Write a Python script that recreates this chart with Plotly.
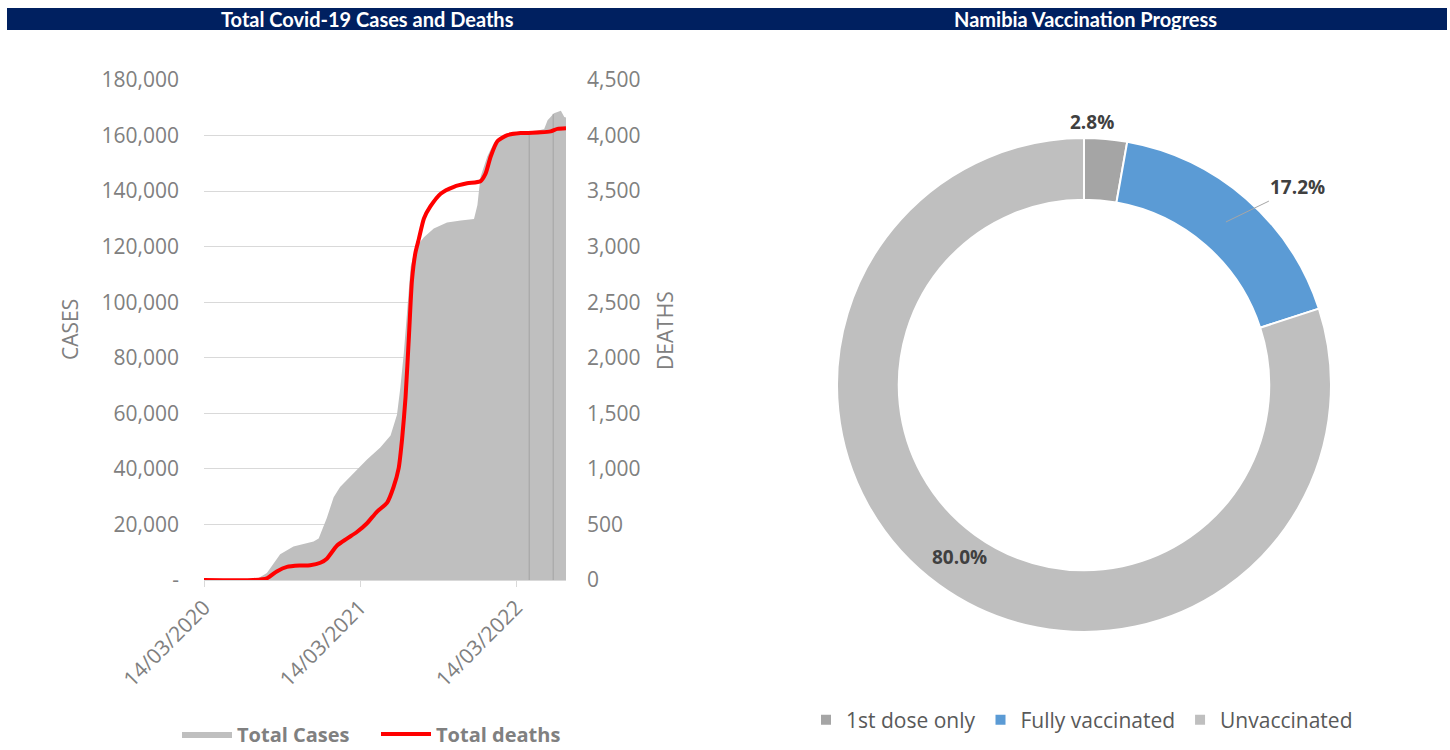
import math
import plotly.graph_objects as go

# ---------------- data ----------------
case_dates = ["2020-03-14", "2020-07-07", "2020-07-15", "2020-08-08", "2020-09-08", "2020-10-09",
              "2020-11-25", "2020-12-07", "2020-12-26", "2021-01-11", "2021-01-26", "2021-02-27",
              "2021-03-30", "2021-04-30", "2021-05-24", "2021-06-08", "2021-06-16", "2021-06-24",
              "2021-07-02", "2021-07-10", "2021-07-21", "2021-08-10", "2021-09-02", "2021-10-03",
              "2021-11-04", "2021-12-05", "2021-12-13", "2021-12-20", "2022-01-05", "2022-01-21",
              "2022-02-05", "2022-03-09", "2022-04-13", "2022-05-18", "2022-05-26", "2022-06-10",
              "2022-06-26", "2022-07-04", "2022-07-08"]
total_cases = [0, 0, 300, 2500, 9300, 12100,
               13900, 14900, 22300, 29800, 33500, 38400,
               43400, 47700, 52000, 59500, 69400, 81800,
               98000, 112800, 119600, 123400, 126500, 128700,
               129400, 130000, 135000, 145000, 152500, 157500,
               159700, 160500, 161000, 162400, 165500, 168000,
               168900, 166700, 166500]

death_dates = ["2020-03-14", "2020-07-07", "2020-08-08", "2020-08-31", "2020-09-24", "2020-10-25",
               "2020-11-17", "2020-12-11", "2020-12-26", "2021-01-19", "2021-02-11", "2021-03-07",
               "2021-03-30", "2021-04-22", "2021-05-16", "2021-05-31", "2021-06-12", "2021-06-20",
               "2021-06-28", "2021-07-06", "2021-07-13", "2021-07-21", "2021-07-29", "2021-08-10",
               "2021-08-25", "2021-09-18", "2021-10-19", "2021-11-19", "2021-12-20", "2022-01-01",
               "2022-01-13", "2022-01-29", "2022-02-21", "2022-03-24", "2022-05-10", "2022-06-02",
               "2022-06-18", "2022-07-08"]
total_deaths = [0, 0, 15, 77, 118, 130,
                133, 155, 192, 310, 372, 434,
                511, 614, 697, 837, 1007, 1271,
                1643, 2200, 2696, 2944, 3068, 3254,
                3362, 3477, 3539, 3570, 3589, 3657,
                3812, 3951, 4004, 4022, 4029, 4038,
                4060, 4066]

# thin darker drop lines visible inside the area
gap_dates = ["2022-04-13", "2022-06-08"]
gap_values = [161000, 167800]

x_tick_vals = ["2020-03-14", "2021-03-14", "2022-03-14"]
x_tick_text = ["14/03/2020", "14/03/2021", "14/03/2022"]
case_tick_vals = [0, 20000, 40000, 60000, 80000, 100000, 120000, 140000, 160000, 180000]
case_tick_text = ["-", "20,000", "40,000", "60,000", "80,000", "100,000", "120,000",
                  "140,000", "160,000", "180,000"]
death_tick_vals = [0, 500, 1000, 1500, 2000, 2500, 3000, 3500, 4000, 4500]
death_tick_text = ["0", "500", "1,000", "1,500", "2,000", "2,500", "3,000", "3,500",
                   "4,000", "4,500"]

vacc_labels = ["1st dose only", "Fully vaccinated", "Unvaccinated"]
vacc_values = [2.8, 17.2, 80.0]
vacc_colors = ["#a5a5a5", "#5b9bd5", "#bfbfbf"]

# ---------------- figure ----------------
W, H = 1450, 750
FONT = "Open Sans"
GRAY = "#808080"
LBL = "#404040"
TICK = 21

# donut geometry (pixels)
PCX, PCY, PR, HOLE = 1084, 385, 247, 0.75

fig = go.Figure()

fig.add_trace(go.Scatter(
    x=case_dates, y=total_cases, name="Total Cases", mode="lines",
    fill="tozeroy", fillcolor="#bfbfbf", line=dict(width=0, color="#d9d9d9"),
    legend="legend", hoverinfo="skip"))

gx, gy = [], []
for d, v in zip(gap_dates, gap_values):
    gx += [d, d, None]
    gy += [0, v, None]
fig.add_trace(go.Scatter(x=gx, y=gy, mode="lines", line=dict(color="#a3a3a3", width=1),
                         showlegend=False, hoverinfo="skip"))

fig.add_trace(go.Scatter(
    x=death_dates, y=total_deaths, name="Total deaths", mode="lines",
    line=dict(color="#ff0000", width=4, shape="spline", smoothing=0.6),
    yaxis="y2", legend="legend"))

fig.add_trace(go.Pie(
    labels=vacc_labels, values=vacc_values, sort=False, direction="clockwise",
    hole=HOLE, marker=dict(colors=vacc_colors, line=dict(color="white", width=2)),
    textinfo="none",
    domain=dict(x=[(PCX - PR) / W, (PCX + PR) / W], y=[1 - (PCY + PR) / H, 1 - (PCY - PR) / H]),
    legend="legend2", showlegend=True))

fig.update_layout(
    width=W, height=H, margin=dict(l=0, r=0, t=0, b=0, autoexpand=False),
    paper_bgcolor="white", plot_bgcolor="white",
    font=dict(family=FONT, size=20, color=GRAY),
    xaxis=dict(domain=[204 / W, 566 / W], type="date",
               range=["2020-03-14", "2022-07-08"],
               tickvals=x_tick_vals, ticktext=x_tick_text, tickangle=-45,
               ticks="outside", ticklen=6, tickcolor="#d9d9d9",
               showline=True, linecolor="#d9d9d9", linewidth=1,
               showgrid=False, zeroline=False, automargin=False,
               tickfont=dict(size=TICK, color=GRAY)),
    yaxis=dict(domain=[1 - 580 / H, 1 - 80 / H], range=[0, 180000],
               tickvals=case_tick_vals, ticktext=case_tick_text,
               showgrid=True, gridcolor="#d9d9d9", gridwidth=1, zeroline=False,
               ticks="", ticklabelstandoff=24, automargin=False,
               tickfont=dict(size=TICK, color=GRAY)),
    yaxis2=dict(overlaying="y", side="right", range=[0, 4500],
                tickvals=death_tick_vals, ticktext=death_tick_text,
                showgrid=False, zeroline=False, ticks="",
                ticklabelstandoff=20, automargin=False,
                tickfont=dict(size=TICK, color=GRAY)),
    legend=dict(orientation="h", x=376 / W, xanchor="center", y=1 - 734 / H, yanchor="middle",
                font=dict(size=20, color=GRAY, weight="bold"), bgcolor="rgba(0,0,0,0)",
                itemwidth=50, tracegroupgap=0, entrywidth=134),
    legend2=dict(orientation="h", x=1082 / W, xanchor="center", y=1 - 720 / H, yanchor="middle",
                 font=dict(size=21, color="#595959"), bgcolor="rgba(0,0,0,0)"),
    showlegend=True,
)

# title band
fig.add_shape(type="rect", xref="paper", yref="paper",
              x0=7 / W, x1=1447 / W, y0=1 - 30 / H, y1=1 - 8 / H,
              fillcolor="#002060", line=dict(width=0), layer="below")
fig.add_annotation(text="Total Covid-19 Cases and Deaths", xref="paper", yref="paper",
                   x=367 / W, y=1 - 19 / H, showarrow=False, xanchor="center", yanchor="middle",
                   font=dict(family="Lato", size=20, color="white", weight="bold"))
fig.add_annotation(text="Namibia Vaccination Progress", xref="paper", yref="paper",
                   x=1085 / W, y=1 - 19 / H, showarrow=False, xanchor="center", yanchor="middle",
                   font=dict(family="Lato", size=20, color="white", weight="bold"))

# axis titles
fig.add_annotation(text="CASES", xref="paper", yref="paper", x=70 / W, y=1 - 330 / H,
                   showarrow=False, textangle=-90, xanchor="center", yanchor="middle",
                   font=dict(size=21, color=GRAY))
fig.add_annotation(text="DEATHS", xref="paper", yref="paper", x=665 / W, y=1 - 331 / H,
                   showarrow=False, textangle=-90, xanchor="center", yanchor="middle",
                   font=dict(size=21, color=GRAY))

# donut data labels, positioned from the slice angles
total = sum(vacc_values)
cum = 0.0
rmid = PR * (1 + HOLE) / 2
for i, v in enumerate(vacc_values):
    ang = 2 * math.pi * (cum + v / 2) / total   # clockwise from 12 o'clock
    cum += v
    s, c = math.sin(ang), math.cos(ang)
    txt = f"<b>{v:.1f}%</b>"
    lf = dict(family=FONT, size=19, color=LBL)
    if i == 0:      # outside end
        px, py = PCX + s * (PR + 2), PCY - c * (PR + 2)
        fig.add_annotation(text=txt, xref="paper", yref="paper", x=(px - 14) / W, y=1 - py / H,
                           showarrow=False, xanchor="center", yanchor="bottom", font=lf)
    elif i == 1:    # with leader line
        px, py = PCX + s * rmid, PCY - c * rmid
        fig.add_annotation(text=txt, xref="paper", yref="paper", x=px / W, y=1 - py / H,
                           showarrow=True, arrowhead=0, arrowwidth=1, arrowcolor="#a6a6a6",
                           ax=72, ay=-35, font=lf, standoff=0, startstandoff=0)
    else:           # inside
        px, py = PCX + s * (rmid - 4), PCY - c * (rmid - 4)
        fig.add_annotation(text=txt, xref="paper", yref="paper", x=px / W, y=1 - py / H,
                           showarrow=False, xanchor="center", yanchor="middle", font=lf)

fig.write_html("out.html")
